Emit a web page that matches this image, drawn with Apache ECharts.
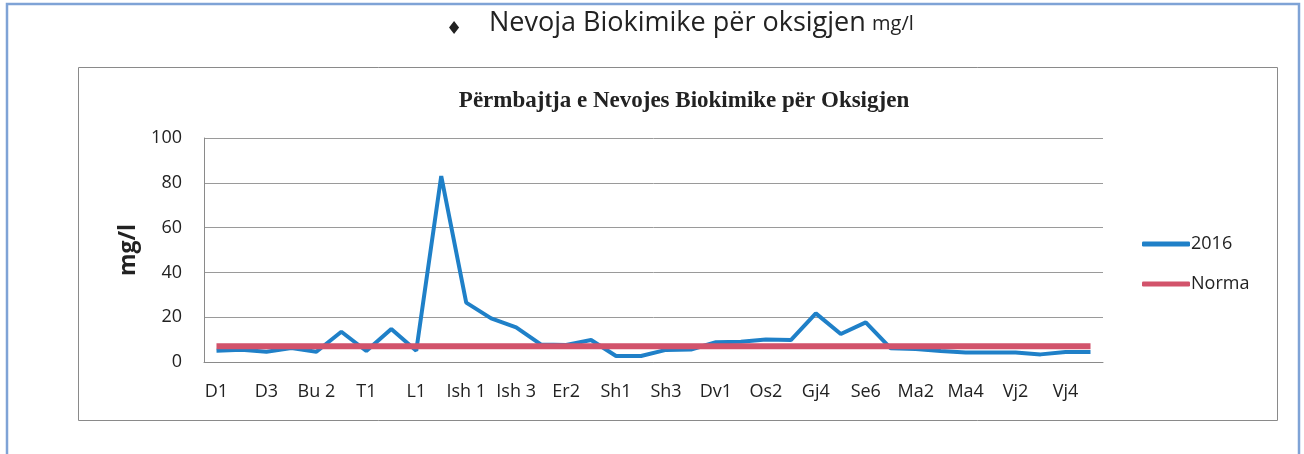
<!DOCTYPE html>
<html>
<head>
<meta charset="utf-8">
<script src="https://cdn.jsdelivr.net/npm/echarts@6/dist/echarts.min.js"></script>
<style>
  html, body { margin: 0; padding: 0; background: #fff; }
  #chart { width: 1304px; height: 454px; }
</style>
</head>
<body>
<div id="chart"></div>
<script>
// Stations (only every other one gets a label on the axis)
var stations = [
    'D1', 'D2', 'D3', 'Bu 1', 'Bu 2', 'Bu 3', 'T1', 'T2', 'L1', 'L2',
    'Ish 1', 'Ish 2', 'Ish 3', 'Er1', 'Er2', 'Er3', 'Sh1', 'Sh2', 'Sh3', 'Sh4',
    'Dv1', 'Os1', 'Os2', 'Gj3', 'Gj4', 'Se5', 'Se6', 'Ma1', 'Ma2', 'Ma3',
    'Ma4', 'Vj1', 'Vj2', 'Vj3', 'Vj4', 'Vj5'
];

// BOD values 2016, mg/l
var values2016 = [
    5, 5.5, 4.6, 6.2, 4.6, 13.5, 4.9, 14.7, 5, 83,
    26.5, 19.5, 15.5, 7.8, 7.6, 9.8, 2.7, 2.7, 5.4, 5.6,
    8.8, 9, 10, 9.8, 21.7, 12.5, 17.7, 6.1, 5.8, 4.9,
    4.2, 4.2, 4.2, 3.4, 4.5, 4.5
];

// Norm value
var normValue = 7;
var normaData = stations.map(function() { return normValue; });

var yTicks = [0, 20, 40, 60, 80, 100];

var chartDom = document.getElementById('chart');
var myChart = echarts.init(chartDom);

var font = '"Open Sans", Lato, sans-serif';

var option = {
    animation: false,
    backgroundColor: '#fff',
    graphic: [
        {
            type: 'rect',
            shape: { x: 7, y: 4, width: 1292, height: 460 },
            style: { fill: 'none', stroke: '#7fa3d6', lineWidth: 2.5 },
            silent: true
        },
        {
            type: 'rect',
            shape: { x: 78.5, y: 67.5, width: 1199, height: 353 },
            style: { fill: 'none', stroke: '#8a8a8a', lineWidth: 1 },
            silent: true
        },
        {
            type: 'text',
            left: 446,
            top: 20,
            style: {
                text: '\u2666',
                font: '18px "DejaVu Sans"',
                fill: '#222'
            }
        },
        {
            type: 'text',
            left: 489,
            top: 10,
            style: {
                text: 'Nevoja Biokimike për oksigjen',
                font: '27px "Open Sans"',
                fill: '#222'
            }
        },
        {
            type: 'text',
            left: 872,
            top: 14,
            style: {
                text: 'mg/l',
                font: '20px "Open Sans"',
                fill: '#222'
            }
        }
    ],
    title: {
        text: 'Përmbajtja e Nevojes Biokimike për Oksigjen',
        left: 679,
        top: 85,
        textAlign: 'center',
        textStyle: {
            fontFamily: '"Liberation Serif", serif',
            fontWeight: 'bold',
            fontSize: 23,
            color: '#222'
        }
    },
    legend: {
        orient: 'vertical',
        left: 1137,
        top: 230,
        itemWidth: 48,
        itemHeight: 5,
        itemGap: 22,
        icon: 'roundRect',
        textStyle: { fontFamily: font, fontSize: 18, color: '#222', padding: [0, 0, 0, -4] },
        data: ['2016', 'Norma']
    },
    grid: {
        left: 204,
        right: 201,
        top: 138,
        bottom: 92
    },
    xAxis: {
        type: 'category',
        data: stations,
        boundaryGap: true,
        axisTick: { show: false },
        axisLine: { lineStyle: { color: '#8a8a8a', width: 1 } },
        axisLabel: {
            interval: 1,
            margin: 21,
            fontFamily: font,
            fontSize: 18,
            color: '#222'
        }
    },
    yAxis: {
        type: 'value',
        min: yTicks[0],
        max: yTicks[yTicks.length - 1],
        interval: 20,
        name: 'mg/l',
        nameLocation: 'middle',
        nameGap: 64,
        nameTextStyle: { fontFamily: font, fontSize: 23, fontWeight: 'bold', color: '#222' },
        axisLine: { show: true, lineStyle: { color: '#8a8a8a', width: 1 } },
        axisTick: { show: false },
        splitLine: { lineStyle: { color: '#9a9a9a', width: 1 } },
        axisLabel: {
            margin: 22,
            fontFamily: font,
            fontSize: 18,
            color: '#222'
        }
    },
    series: [
        {
            name: 'Norma',
            type: 'line',
            data: normaData,
            symbol: 'none',
            z: 3,
            lineStyle: { color: '#d2536b', width: 6 },
            itemStyle: { color: '#d2536b' }
        },
        {
            name: '2016',
            type: 'line',
            data: values2016,
            symbol: 'none',
            z: 2,
            lineStyle: { color: '#1f80c8', width: 4 },
            itemStyle: { color: '#1f80c8' }
        }
    ]
};

myChart.setOption(option);
</script>
</body>
</html>
